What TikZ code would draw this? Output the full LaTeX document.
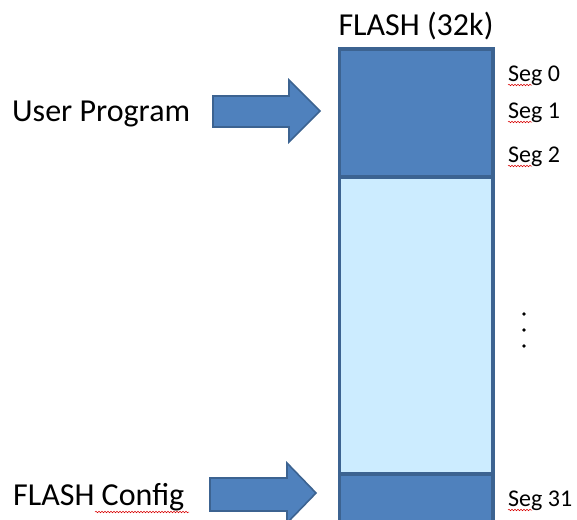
\documentclass[tikz,border=0pt]{standalone}
\usepackage{fontspec}
\setmainfont{Carlito}
\usetikzlibrary{decorations.pathmorphing}
\definecolor{dkblue}{HTML}{4F81BD}
\definecolor{edgeblue}{HTML}{3C6391}
\definecolor{ltblue}{HTML}{CCECFF}
\begin{document}
\begin{tikzpicture}[x=1pt,y=-1pt,
  darkseg/.style={fill=dkblue,draw=edgeblue,line width=3.6pt},
  lightseg/.style={fill=ltblue,draw=edgeblue,line width=3.6pt},
  bigarrow/.style={fill=dkblue,draw=edgeblue,line width=1.6pt,line join=miter},
  bigtext/.style={font=\fontsize{32}{36}\selectfont,inner sep=0pt,text=black},
  segtext/.style={font=\fontsize{24}{28}\selectfont,inner sep=0pt,anchor=base west,text=black},
  squig/.style={draw=red!85!black,line width=0.5pt,decorate,decoration={snake,amplitude=0.8pt,segment length=3pt}},
  dotmark/.style={fill=black,draw=none}]
\useasboundingbox (0,0) rectangle (577,519);
\clip (0,0) rectangle (577,519);
% memory column
\path[lightseg] (339.5,177) rectangle (493,474);
\path[darkseg] (339.5,49) rectangle (493,177);
\path[darkseg] (339.5,474) rectangle (493,535);
% title
\node[bigtext,anchor=base] (title) at (416,35) {FLASH (32k)};
% segment labels
\node[segtext] (s0) at (508,81) {Seg 0};
\node[segtext] (s1) at (508,118) {Seg 1};
\node[segtext] (s2) at (508,162) {Seg 2};
\node[segtext] (s31) at (508,506) {Seg 31};
\foreach \yy in {85,122,166,510}{
  \draw[squig] (508,\yy) -- (532,\yy);
}
% dots
\foreach \yy in {314,330,346}{
  \fill[dotmark] (524,\yy) circle (1.8);
}
% left labels
\node[bigtext,anchor=base west] (up) at (12,121) {User Program};
\node[bigtext,anchor=base west] (fc) at (13,505) {FLASH Config};
\draw[squig] (95,512) -- (189,512);
% arrows
\path[bigarrow] (213,96) -- (289,96) -- (289,80) -- (320,111) -- (289,142) -- (289,127) -- (213,127) -- cycle;
\path[bigarrow] (210,478) -- (287,478) -- (287,463) -- (316,493) -- (287,523) -- (287,511) -- (210,511) -- cycle;
\end{tikzpicture}
\end{document}
